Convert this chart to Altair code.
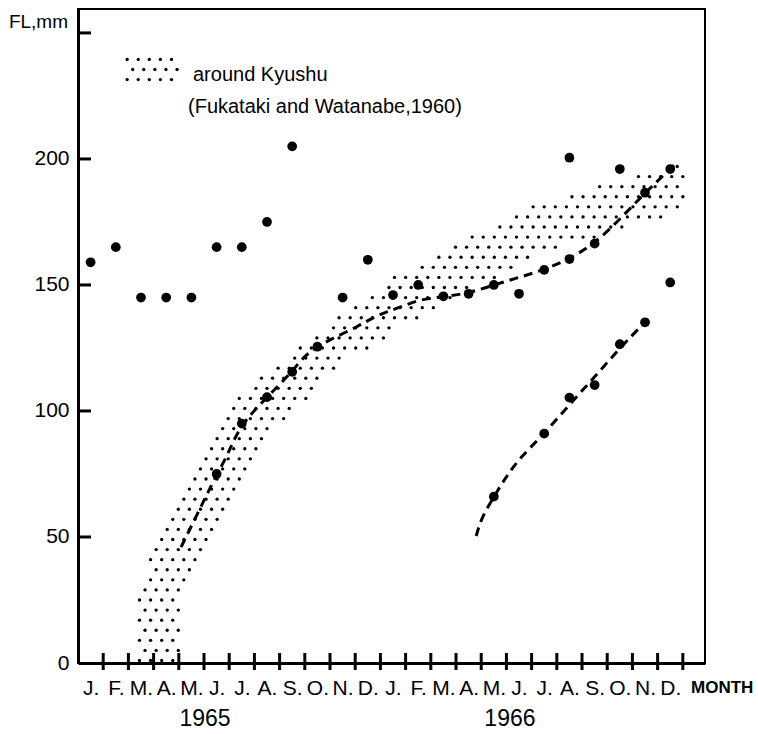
import json
import numpy as np
import pandas as pd
import altair as alt

# ---------------- data ----------------
# x unit: months from the start of January 1965 (month i centred at i + 0.5)
month_labels = ["J.", "F.", "M.", "A.", "M.", "J.", "J.", "A.", "S.", "O.", "N.", "D."]
years = ["1965", "1966"]
year_center = [5.04, 17.14]
y_tick_values = [0, 50, 100, 150, 200, 250]

# observed fork lengths: month index (0 = Jan 1965) and FL (mm)
obs_month = [0, 1, 2, 3, 4, 5, 6, 7, 8, 10, 11,
             5, 6, 7, 8, 9,
             12, 13, 14, 15, 16, 17, 18, 19, 19, 20, 21, 22, 23, 23,
             16, 18, 19, 20, 21, 22]
obs_fl = [159, 165, 145, 145, 145, 165, 165, 175, 205, 145, 160,
          75, 95, 105.5, 115.5, 125.5,
          146, 150, 145.5, 146.5, 150, 146.5, 156, 160.3, 200.5, 166.4, 196, 186.6, 196, 151,
          66, 91, 105.3, 110.3, 126.5, 135.2]

# dashed growth curve of the 1965 year class
curve1_u = [4.09, 4.68, 5.24, 5.5, 5.8, 6.1, 6.5, 7.5, 8.5, 8.94, 9.5, 10.14, 11.1, 11.7,
            12.25, 12.85, 13.49, 14.1, 14.5, 15.5, 16.5, 17.5, 18.5, 19.5, 20.5, 21.5,
            22.5, 23.5, 23.75]
curve1_fl = [46, 58, 69.4, 74.6, 80, 86.5, 95, 105.5, 115.5, 121.5, 125.5, 129, 133.5, 137,
             139.4, 141.4, 144, 144.8, 145.4, 146.7, 150, 153, 156, 160.3, 166.4, 176,
             186.6, 196, 198.5]

# dashed growth curve of the 1966 year class
curve2_u = [15.8, 16.0, 16.5, 17.0, 17.5, 18.5, 19.5, 20.5, 21.5, 22.5]
curve2_fl = [50.4, 57.4, 66, 74, 81, 91, 102.5, 113.5, 125, 135.2]

# stippled band "around Kyushu" (Fukataki and Watanabe, 1960): upper and lower edges
band_upper_u = [2.18, 2.38, 2.98, 3.57, 4.13, 4.64, 5.16, 5.63, 6.15, 6.63, 7.14, 7.62, 8.61,
                9.52, 10.48, 10.91, 11.86, 12.3, 12.78, 13.69, 14.17, 15.04, 15.56, 16.43,
                17.34, 17.82, 19.13, 20.04, 21.39, 22.5, 24.0]
band_upper_fl = [0, 24, 46, 60, 71, 79, 87, 95, 103, 108, 112, 116, 123.5,
                 131.5, 139.4, 143.4, 147, 151, 155, 158, 162, 166, 169.6, 173.4,
                 177, 180.8, 184.4, 187.7, 191.3, 194.6, 197.6]
band_lower_u = [4.1, 4.2, 4.72, 5.32, 5.83, 6.31, 6.9, 7.34, 7.9, 8.37, 8.81, 9.33, 9.8,
                10.32, 10.79, 11.67, 12.18, 12.62, 13.49, 14.01, 14.88, 15.83, 17.22, 17.66,
                18.61, 19.52, 21.23, 21.71, 23.1, 24.0]
band_lower_fl = [0, 26, 40, 48, 60, 69, 77, 85, 93, 98, 102, 106, 113.6,
                 117.6, 121, 125.3, 129, 132.5, 136.5, 140, 144, 150, 156, 159,
                 162.6, 166.3, 169.8, 173, 176.5, 180]

legend_title = "around Kyushu"
legend_sub = "(Fukataki and Watanabe,1960)"

# ---------------- tables ----------------
obs = pd.DataFrame({"u": np.array(obs_month) + 0.5, "v": obs_fl})
c1 = pd.DataFrame({"u": curve1_u, "v": curve1_fl})
c2 = pd.DataFrame({"u": curve2_u, "v": curve2_fl})

# stipple texture filling the band (lattice clipped to the band's edges)
du, dv = 0.44, 4.0
stip = []
for i, v in enumerate(np.arange(1.0, 205.0, dv)):
    off = du / 2 if i % 2 else 0.0
    for u in np.arange(2.0 + off, 24.05, du):
        hi = np.interp(u, band_upper_u, band_upper_fl, left=-1, right=-1)
        lo = np.interp(u, band_lower_u, band_lower_fl, left=0)
        if lo <= v <= hi:
            stip.append((u, v))
stipple = pd.DataFrame(stip, columns=["u", "v"])

# legend swatch texture
sw = []
for i, v in enumerate(np.arange(231.5, 243.0, dv)):
    off = du / 2 if i % 2 else 0.0
    for u in np.arange(1.95 + off, 4.0, du):
        sw.append((u, v))
swatch = pd.DataFrame(sw, columns=["u", "v"])

xticks = pd.DataFrame({"u": list(range(1, 25))})
yticks = pd.DataFrame({"v": y_tick_values[1:]})
year_df = pd.DataFrame({"u": year_center, "label": years})

# ---------------- chart ----------------
W, H = 627, 654
FONT = "Liberation Sans Narrow, Liberation Sans, Arial, sans-serif"
FONT_R = "Liberation Sans, Arial, sans-serif"

xscale = alt.Scale(domain=[0, 24.88], nice=False, zero=False)
yscale = alt.Scale(domain=[0, 259.5], nice=False, zero=False)

label_expr = "%s[floor(datum.value) %% 12]" % json.dumps(month_labels)
xaxis = alt.Axis(values=[m + 0.5 for m in range(24)], labelExpr=label_expr, title=None,
                 ticks=False, grid=False, domainColor="black", domainWidth=3,
                 labelFont=FONT, labelFontSize=21, labelColor="black",
                 labelPadding=14, labelBaseline="top", labelFlush=False)
yaxis = alt.Axis(values=y_tick_values, labelExpr="datum.value == 250 ? '' : datum.label",
                 title=None, ticks=False, grid=False, domainColor="black", domainWidth=3,
                 labelFont=FONT_R, labelFontSize=21, labelColor="black", labelPadding=9)

X = alt.X("u:Q", scale=xscale, axis=xaxis)
Y = alt.Y("v:Q", scale=yscale, axis=yaxis)

band_layer = alt.Chart(stipple).mark_circle(size=11, color="black", opacity=1).encode(x=X, y=Y)
swatch_layer = alt.Chart(swatch).mark_circle(size=11, color="black", opacity=1).encode(x=X, y=Y)

dash = dict(color="black", strokeWidth=3, strokeDash=[9, 6], interpolate="basis")
c1_layer = alt.Chart(c1).mark_line(**dash).encode(x=X, y=Y)
c2_layer = alt.Chart(c2).mark_line(**dash).encode(x=X, y=Y)

pts_layer = alt.Chart(obs).mark_circle(size=95, color="black", opacity=1).encode(x=X, y=Y)

xtick_layer = alt.Chart(xticks).mark_rule(color="black", strokeWidth=3).encode(
    x=X, y=alt.value(H - 10), y2=alt.value(H + 7))
ytick_layer = alt.Chart(yticks).mark_rule(color="black", strokeWidth=3).encode(
    y=Y, x=alt.value(0), x2=alt.value(13))

year_layer = alt.Chart(year_df).mark_text(font=FONT, fontSize=23, color="black",
                                          baseline="middle", align="center").encode(
    x=X, y=alt.value(H + 56), text="label:N")

ann = pd.DataFrame({"t": ["FL,mm", "MONTH", legend_title, legend_sub]})
fl_layer = alt.Chart(ann).transform_filter("datum.t == 'FL,mm'").mark_text(
    font=FONT_R, fontSize=19, color="black", align="right", baseline="middle").encode(
    x=alt.value(-10), y=alt.value(13), text="t:N")
month_layer = alt.Chart(ann).transform_filter("datum.t == 'MONTH'").mark_text(
    font=FONT_R, fontSize=17, fontWeight="bold", color="black", align="left",
    baseline="middle").encode(x=alt.value(613), y=alt.value(H + 25), text="t:N")
leg1_layer = alt.Chart(ann).transform_filter("datum.t == '%s'" % legend_title).mark_text(
    font=FONT_R, fontSize=20, color="black", align="left", baseline="alphabetic").encode(
    x=alt.value(115), y=alt.value(72), text="t:N")
leg2_layer = alt.Chart(ann).transform_filter("datum.t == '%s'" % legend_sub).mark_text(
    font=FONT_R, fontSize=20, color="black", align="left", baseline="alphabetic").encode(
    x=alt.value(110), y=alt.value(104), text="t:N")

chart = alt.layer(
    band_layer, swatch_layer, c1_layer, c2_layer, pts_layer,
    xtick_layer, ytick_layer, year_layer, fl_layer, month_layer, leg1_layer, leg2_layer
).properties(
    width=W, height=H,
    autosize=alt.AutoSizeParams(type="none"),
    padding={"left": 78, "top": 9, "right": 53, "bottom": 71},
    background="white",
).configure_view(stroke="black", strokeWidth=2)

chart.save("out.html", embed_options={"renderer": "svg", "actions": False})
